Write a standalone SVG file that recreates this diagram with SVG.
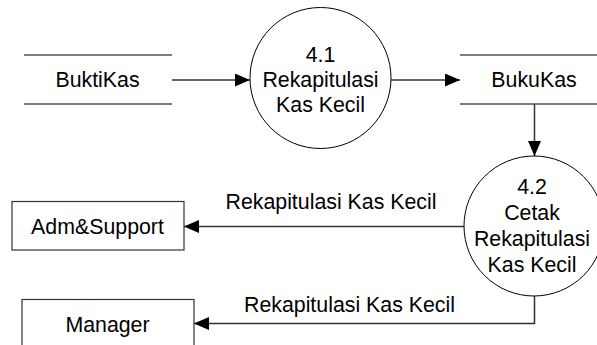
<svg xmlns="http://www.w3.org/2000/svg" width="597" height="345" viewBox="0 0 597 345">
  <defs>
    <marker id="arrow" markerUnits="userSpaceOnUse" markerWidth="15" markerHeight="13" refX="15" refY="6.5" orient="auto">
      <path d="M0,0 L15,6.5 L0,13 Z" fill="#000"/>
    </marker>
    <style>
      text { font-family: "Liberation Sans", Arial, sans-serif; font-size: 21.33px; fill: #000; text-anchor: middle; }
      .proc { fill: #fff; stroke: #000; stroke-width: 1; }
      .ext { fill: #fff; stroke: #333; stroke-width: 1.2; }
      .store { stroke: #555; stroke-width: 1.5; }
      .flow { fill: none; stroke: #333; stroke-width: 1.5; marker-end: url(#arrow); }
    </style>
  </defs>

  <rect width="597" height="345" fill="#fff"/>

  <!-- data flows -->
  <g id="connectors">
    <line class="flow" x1="172" y1="80" x2="250" y2="80"/>
    <line class="flow" x1="391" y1="80" x2="460" y2="80"/>
    <line class="flow" x1="534.5" y1="104" x2="534.5" y2="156"/>
    <line class="flow" x1="464" y1="226.5" x2="184" y2="226.5"/>
    <text x="331" y="209">Rekapitulasi Kas Kecil</text>
    <polyline class="flow" points="534.5,296 534.5,323.5 194,323.5"/>
    <text x="349.5" y="311.5">Rekapitulasi Kas Kecil</text>
  </g>

  <!-- data store BuktiKas -->
  <g id="buktikas">
    <line class="store" x1="24" y1="55" x2="172" y2="55"/>
    <line class="store" x1="24" y1="104" x2="172" y2="104"/>
    <text x="97.5" y="87">BuktiKas</text>
  </g>

  <!-- process 4.1 -->
  <g id="p41">
    <circle class="proc" cx="320.5" cy="78" r="70.5"/>
    <text x="320.5" y="62">4.1</text>
    <text x="320.5" y="87">Rekapitulasi</text>
    <text x="320.5" y="112">Kas Kecil</text>
  </g>

  <!-- data store BukuKas -->
  <g id="bukukas">
    <line class="store" x1="460" y1="55" x2="610" y2="55"/>
    <line class="store" x1="460" y1="104" x2="610" y2="104"/>
    <text x="534" y="87">BukuKas</text>
  </g>

  <!-- process 4.2 -->
  <g id="p42">
    <circle class="proc" cx="534" cy="226" r="70"/>
    <text x="532" y="193.5">4.2</text>
    <text x="532" y="219.5">Cetak</text>
    <text x="532" y="245.5">Rekapitulasi</text>
    <text x="532" y="271.5">Kas Kecil</text>
  </g>

  <!-- external entity Adm&Support -->
  <g id="admsupport">
    <rect class="ext" x="12" y="201.5" width="172" height="48.5"/>
    <text x="97.5" y="233.5">Adm&amp;Support</text>
  </g>

  <!-- external entity Manager -->
  <g id="manager">
    <rect class="ext" x="22" y="299.5" width="172" height="48.5"/>
    <text x="107.5" y="331.5">Manager</text>
  </g>
</svg>
